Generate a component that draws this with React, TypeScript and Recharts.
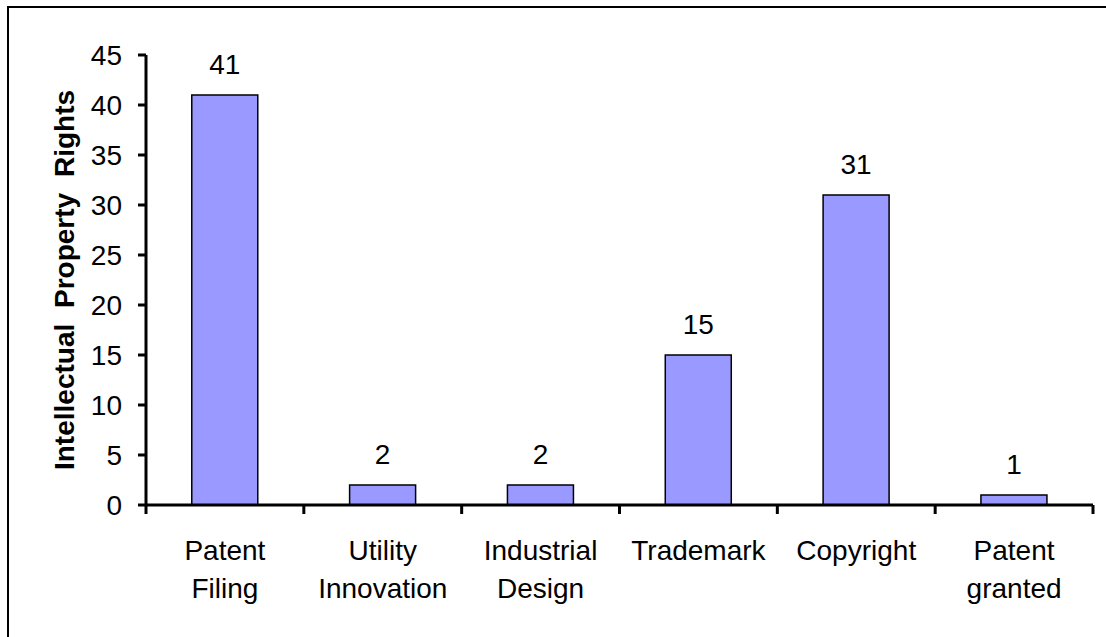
import React from 'react';
import { BarChart, Bar, XAxis, YAxis, LabelList, Label } from 'recharts';

const categories = ['Patent Filing', 'Utility Innovation', 'Industrial Design', 'Trademark', 'Copyright', 'Patent granted'];
const values = [41, 2, 2, 15, 31, 1];
const tickLabelLines = [
  ['Patent', 'Filing'],
  ['Utility', 'Innovation'],
  ['Industrial', 'Design'],
  ['Trademark'],
  ['Copyright'],
  ['Patent', 'granted'],
];
const yTicks = [0, 5, 10, 15, 20, 25, 30, 35, 40, 45];
const yLabel = 'Intellectual Property Rights';

const data = categories.map((c, i) => ({ name: c, value: values[i] }));

const FONT = '"Liberation Sans", Arial, sans-serif';

const XTick = (props: any) => {
  const { x, y, payload, width, visibleTicksCount } = props;
  const idx = categories.indexOf(payload.value);
  const lines = tickLabelLines[idx] || [payload.value];
  const half = payload && typeof payload.offset === 'number' && payload.offset > 0
    ? payload.offset
    : width / (visibleTicksCount || categories.length) / 2;
  const isLast = idx === categories.length - 1;
  return (
    <g>
      <line x1={x - half} x2={x - half} y1={y} y2={y + 9} stroke="#000" strokeWidth={3} />
      {isLast && <line x1={x + half} x2={x + half} y1={y} y2={y + 9} stroke="#000" strokeWidth={3} />}
      <text x={x} y={y} textAnchor="middle" fontSize={28} fill="#000" fontFamily={FONT}>
        {lines.map((l, i) => (
          <tspan key={i} x={x} dy={i === 0 ? 55 : 38}>{l}</tspan>
        ))}
      </text>
    </g>
  );
};

const YLabel = (props: any) => {
  const vb = props.viewBox || { x: 0, y: 0, width: 0, height: 0 };
  const cx = 64;
  const cy = vb.y + vb.height / 2;
  return (
    <text
      x={cx}
      y={cy}
      transform={`rotate(-90, ${cx}, ${cy})`}
      textAnchor="middle"
      dominantBaseline="central"
      fontSize={28}
      fontWeight="bold"
      fill="#000"
      fontFamily={FONT}
      wordSpacing={8}
    >
      {yLabel}
    </text>
  );
};

export default function App() {
  return (
    <div style={{ position: 'absolute', left: 0, top: 0, width: 1106, height: 637, background: '#fff', overflow: 'hidden' }}>
      <div style={{ position: 'absolute', left: 7, top: 6, width: 1099, height: 631, borderLeft: '2.5px solid #000', borderTop: '2.5px solid #000', boxSizing: 'border-box' }} />
      <div style={{ position: 'absolute', left: 0, top: 0 }}>
        <BarChart width={1106} height={637} data={data} margin={{ top: 55, right: 13, left: 0, bottom: 0 }} barCategoryGap="29%">
          <XAxis dataKey="name" height={132} tickSize={0} tickMargin={0} axisLine={{ stroke: '#000', strokeWidth: 3 }} tickLine={false} tick={XTick} interval={0} />
          <YAxis
            width={146}
            domain={[0, 45]}
            ticks={yTicks}
            interval={0}
            tickSize={8}
            tickMargin={16}
            axisLine={{ stroke: '#000', strokeWidth: 3 }}
            tickLine={{ stroke: '#000', strokeWidth: 3 }}
            tick={{ fontSize: 28, fill: '#000', fontFamily: FONT }}
          >
            <Label content={YLabel} />
          </YAxis>
          <Bar dataKey="value" fill="#9999FF" stroke="#000" strokeWidth={1.5} isAnimationActive={false}>
            <LabelList dataKey="value" position="top" offset={21} fontSize={28} fill="#000" fontFamily={FONT} />
          </Bar>
        </BarChart>
      </div>
    </div>
  );
}
